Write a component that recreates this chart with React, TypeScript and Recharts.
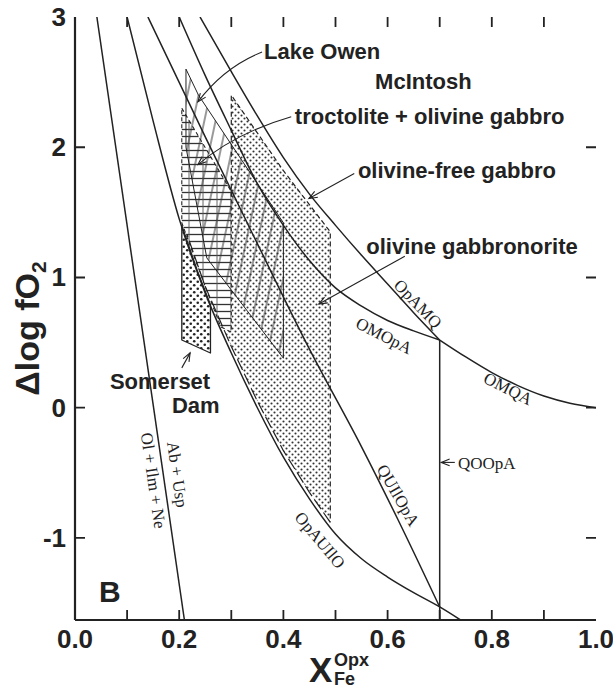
import React from 'react';
import { ScatterChart, Scatter, XAxis, YAxis } from 'recharts';

const CHART_W = 613;
const CHART_H = 690;
const INK = '#222';
const SANS = '"Liberation Sans", Arial, Helvetica, sans-serif';
const SERIF = '"Liberation Serif", "Times New Roman", serif';

// ---------- axes ----------
const xDomain = [0, 1];
const yDomain = [-1.63, 3];
const xTicks = [0, 0.1, 0.2, 0.3, 0.4, 0.5, 0.6, 0.7, 0.8, 0.9, 1.0];
const xLabelTicks = [0, 0.2, 0.4, 0.6, 0.8, 1.0];
const yTicks = [-1, 0, 1, 2, 3];
const xMinorMarks = [0.1, 0.2, 0.3, 0.4, 0.5, 0.6, 0.7, 0.8, 0.9];
const yMarks = [-1, 0, 1, 2];

// ---------- phase boundaries ----------
const olIlmNeLine = [{ x: 0.042, y: 3.0 }, { x: 0.21, y: -1.63 }];
const opAUIlO = [
  { x: 0.10, y: 3.0 }, { x: 0.15, y: 2.2 }, { x: 0.20, y: 1.45 }, { x: 0.25, y: 0.88 },
  { x: 0.30, y: 0.42 }, { x: 0.35, y: 0.0 }, { x: 0.40, y: -0.38 }, { x: 0.45, y: -0.70 },
  { x: 0.50, y: -0.97 }, { x: 0.55, y: -1.16 }, { x: 0.60, y: -1.30 }, { x: 0.65, y: -1.42 },
  { x: 0.70, y: -1.53 }, { x: 0.74, y: -1.63 },
];
const quIlOpA = [
  { x: 0.14, y: 3.0 }, { x: 0.25, y: 2.08 }, { x: 0.35, y: 1.26 }, { x: 0.45, y: 0.45 },
  { x: 0.55, y: -0.30 }, { x: 0.62, y: -0.86 }, { x: 0.70, y: -1.53 },
];
const omOpA = [
  { x: 0.20, y: 3.0 }, { x: 0.25, y: 2.55 }, { x: 0.30, y: 2.13 }, { x: 0.35, y: 1.72 },
  { x: 0.40, y: 1.40 }, { x: 0.45, y: 1.13 }, { x: 0.50, y: 0.92 }, { x: 0.55, y: 0.78 },
  { x: 0.60, y: 0.67 }, { x: 0.65, y: 0.59 }, { x: 0.70, y: 0.52 },
];
const omQA = [
  { x: 0.70, y: 0.52 }, { x: 0.75, y: 0.39 }, { x: 0.80, y: 0.27 }, { x: 0.85, y: 0.17 },
  { x: 0.90, y: 0.09 }, { x: 0.95, y: 0.035 }, { x: 1.0, y: 0.0 },
];
const opAMQ = [
  { x: 0.24, y: 3.0 }, { x: 0.30, y: 2.58 }, { x: 0.35, y: 2.24 }, { x: 0.40, y: 1.92 },
  { x: 0.45, y: 1.64 }, { x: 0.50, y: 1.40 }, { x: 0.55, y: 1.17 }, { x: 0.60, y: 0.95 },
  { x: 0.65, y: 0.73 }, { x: 0.70, y: 0.52 },
];
const qoOpA = [{ x: 0.70, y: 0.52 }, { x: 0.70, y: -1.63 }];

// ---------- rock fields ----------
const gabbronoriteArea = [
  { x: 0.30, y: 2.40 }, { x: 0.40, y: 1.82 }, { x: 0.49, y: 1.35 }, { x: 0.49, y: -0.88 },
  { x: 0.45, y: -0.65 }, { x: 0.40, y: -0.33 }, { x: 0.35, y: 0.05 }, { x: 0.30, y: 0.47 },
  { x: 0.25, y: 0.93 }, { x: 0.215, y: 1.33 }, { x: 0.30, y: 1.62 },
];
const gabbronoriteUpperEdge = [
  { x: 0.30, y: 1.62 }, { x: 0.30, y: 2.40 }, { x: 0.40, y: 1.82 }, { x: 0.49, y: 1.35 }, { x: 0.49, y: -0.88 },
];
const gabbronoriteLowerEdge = [
  { x: 0.49, y: -0.88 }, { x: 0.45, y: -0.65 }, { x: 0.40, y: -0.33 }, { x: 0.35, y: 0.05 },
  { x: 0.30, y: 0.47 }, { x: 0.25, y: 0.93 }, { x: 0.215, y: 1.33 },
];
const somersetDamArea = [
  { x: 0.205, y: 1.40 }, { x: 0.205, y: 0.52 }, { x: 0.26, y: 0.42 }, { x: 0.26, y: 0.79 }, { x: 0.235, y: 1.05 },
];
const troctoliteArea = [
  { x: 0.205, y: 2.30 }, { x: 0.30, y: 1.66 }, { x: 0.30, y: 0.58 }, { x: 0.28, y: 0.62 },
  { x: 0.25, y: 0.93 }, { x: 0.205, y: 1.42 },
];
const lakeOwenArea = [
  { x: 0.213, y: 2.60 }, { x: 0.237, y: 2.40 }, { x: 0.40, y: 1.42 }, { x: 0.40, y: 0.38 },
  { x: 0.253, y: 1.15 }, { x: 0.213, y: 2.0 },
];

// ---------- arrows ----------
const lakeOwenArrow = [{ x: 0.359, y: 2.731 }, { x: 0.292, y: 2.578 }, { x: 0.236, y: 2.349 }];
const troctoliteArrow = [{ x: 0.415, y: 2.234 }, { x: 0.317, y: 2.081 }, { x: 0.236, y: 1.867 }];
const olivineFreeArrow = [{ x: 0.536, y: 1.798 }, { x: 0.449, y: 1.607 }];
const gabbronoriteArrow = [{ x: 0.633, y: 1.163 }, { x: 0.468, y: 0.796 }];
const somersetArrow = [{ x: 0.205, y: 0.306 }, { x: 0.221, y: 0.421 }];
const qooArrow = [{ x: 0.729, y: -0.42 }, { x: 0.703, y: -0.42 }];

// ---------- labels ----------
const fieldLabels = [
  { x: 0.363, y: 2.678, text: 'Lake Owen' },
  { x: 0.576, y: 2.448, text: 'McIntosh' },
  { x: 0.422, y: 2.181, text: 'troctolite + olivine gabbro' },
  { x: 0.543, y: 1.760, text: 'olivine-free gabbro' },
  { x: 0.559, y: 1.178, text: 'olivine gabbronorite' },
  { x: 0.067, y: 0.145, text: 'Somerset' },
  { x: 0.186, y: -0.038, text: 'Dam' },
];
const reactionLabels = [
  { x: 0.658, y: 0.796, text: 'OpAMQ', angle: 46 },
  { x: 0.593, y: 0.551, text: 'OMOpA', angle: 27 },
  { x: 0.831, y: 0.145, text: 'OMQA', angle: 27 },
  { x: 0.620, y: -0.673, text: 'QUIlOpA', angle: 60 },
  { x: 0.470, y: -1.018, text: 'OpAUIlO', angle: 50 },
  { x: 0.196, y: -0.513, text: 'Ab + Usp', angle: 81.7 },
  { x: 0.150, y: -0.559, text: 'Ol + Ilm + Ne', angle: 81.7 },
];
const qooLabel = [{ x: 0.735, y: -0.467, text: 'QOOpA' }];
const panelLabel = [{ x: 0.067, y: -1.49, text: 'B' }];
const anchorPoint = [{ x: 0, y: 0 }];

// tick-mark series (positions come from the axis scales)
const bottomMarks = xMinorMarks.map((v) => ({ x: v, y: yDomain[0] }));
const topMarks = xMinorMarks.map((v) => ({ x: v, y: yDomain[1] }));
const leftMarks = yMarks.map((v) => ({ x: xDomain[0], y: v }));
const rightMarks = yMarks.map((v) => ({ x: xDomain[1], y: v }));

// ---------- renderers ----------
const noShape = () => <g />;
const TICK_LEN = 10;
const marksPath = (dx: number, dy: number) => (props: any) => {
  const pts = props.points || [];
  const d = pts.map((p: any) => `M${p.x},${p.y} L${p.x + dx * TICK_LEN},${p.y + dy * TICK_LEN}`).join(' ');
  return <path d={d} fill="none" stroke={INK} strokeWidth={1.8} />;
};

const polyPath = (fill: string, stroke: string, width: number, dash?: string, closed = true) => (props: any) => {
  const pts = props.points || [];
  if (!pts.length) return <g />;
  const d = pts.map((p: any, i: number) => `${i ? 'L' : 'M'}${p.x},${p.y}`).join(' ') + (closed ? ' Z' : '');
  return <path d={d} fill={fill} stroke={stroke} strokeWidth={width} strokeDasharray={dash} strokeLinejoin="round" />;
};

const arrowPath = (props: any) => {
  const pts = props.points || [];
  if (pts.length < 2) return <g />;
  let d: string;
  let from: any;
  const end = pts[pts.length - 1];
  if (pts.length === 3) {
    const p0 = pts[0], p1 = pts[1];
    const c = { x: 2 * p1.x - (p0.x + end.x) / 2, y: 2 * p1.y - (p0.y + end.y) / 2 };
    d = `M${p0.x},${p0.y} Q${c.x},${c.y} ${end.x},${end.y}`;
    from = c;
  } else {
    d = `M${pts[0].x},${pts[0].y} L${end.x},${end.y}`;
    from = pts[0];
  }
  const ang = Math.atan2(end.y - from.y, end.x - from.x);
  const L = 9;
  const s = 0.38;
  const h1 = { x: end.x - L * Math.cos(ang - s), y: end.y - L * Math.sin(ang - s) };
  const h2 = { x: end.x - L * Math.cos(ang + s), y: end.y - L * Math.sin(ang + s) };
  return (
    <g>
      <path d={d} fill="none" stroke={INK} strokeWidth={1.1} />
      <path d={`M${h1.x},${h1.y} L${end.x},${end.y} L${h2.x},${h2.y}`} fill="none" stroke={INK} strokeWidth={1.1} />
    </g>
  );
};

const FieldLabel = (p: any) => {
  const d = p.payload || p;
  return (
    <text x={p.cx} y={p.cy} fontFamily={SANS} fontWeight="bold" fontSize={22} fill={INK}>{d.text}</text>
  );
};
const ReactionLabel = (p: any) => {
  const d = p.payload || p;
  return (
    <text x={p.cx} y={p.cy} transform={`rotate(${d.angle} ${p.cx} ${p.cy})`} textAnchor="middle"
      dominantBaseline="central" fontFamily={SERIF} fontSize={17} fill={INK}>{d.text}</text>
  );
};
const QooLabel = (p: any) => {
  const d = p.payload || p;
  return <text x={p.cx} y={p.cy} fontFamily={SERIF} fontSize={17} fill={INK}>{d.text}</text>;
};
const PanelLabel = (p: any) => {
  const d = p.payload || p;
  return <text x={p.cx} y={p.cy} textAnchor="middle" fontFamily={SANS} fontWeight="bold" fontSize={30} fill={INK}>{d.text}</text>;
};

const isLabelled = (v: number) => xLabelTicks.some((t) => Math.abs(t - v) < 1e-6);

const BottomTick = (props: any) => {
  const { x, y, payload } = props;
  const v = Number(payload.value);
  return isLabelled(v) ? (
    <text x={x} y={y + 28} textAnchor="middle" fontFamily={SANS} fontWeight="bold" fontSize={26} fill={INK}>
      {v.toFixed(1)}
    </text>
  ) : <g />;
};
const LeftTick = (props: any) => {
  const { x, y, payload } = props;
  return (
    <text x={x - 9} y={y + 9} textAnchor="end" fontFamily={SANS} fontWeight="bold" fontSize={26} fill={INK}>
      {String(payload.value)}
    </text>
  );
};

const XTitle = (p: any) => {
  const vb = (p && p.viewBox) || { x: 75, y: 620, width: 521, height: 70 };
  const cx = vb.x + vb.width / 2;
  return (
    <g>
      <text x={cx - 26.5} y={vb.y + 62} fontFamily={SANS} fontWeight="bold" fontSize={35} fill={INK}>X</text>
      <text x={cx - 1.5} y={vb.y + 46} fontFamily={SANS} fontWeight="bold" fontSize={18} fill={INK}>Opx</text>
      <text x={cx - 1.5} y={vb.y + 65} fontFamily={SANS} fontWeight="bold" fontSize={18} fill={INK}>Fe</text>
    </g>
  );
};
const YTitle = (p: any) => {
  const vb = (p && p.viewBox) || { x: 0, y: 17, width: 75, height: 603 };
  const x0 = vb.x + 39;
  const y0 = vb.y + vb.height / 2 + 10;
  return (
    <text transform={`rotate(-90 ${x0} ${y0})`} x={x0} y={y0} textAnchor="middle"
      fontFamily={SANS} fontWeight="bold" fontSize={34} fill={INK}>
      Δlog fO<tspan fontSize={21} dy={7}>2</tspan>
    </text>
  );
};

const frameLine = { stroke: INK, strokeWidth: 2.2 };
const curveLine = { stroke: INK, strokeWidth: 1.5 };

export default function App() {
  return (
    <div style={{ position: 'absolute', left: 0, top: 0, width: CHART_W, height: CHART_H, background: '#fff' }}>
      <svg width={0} height={0} style={{ position: 'absolute' }}>
        <defs>
          <pattern id="stipple" width="6" height="6" patternUnits="userSpaceOnUse">
            <rect width="6" height="6" fill="#fff" />
            <circle cx="1.5" cy="1.5" r="1.05" fill="#333" />
            <circle cx="4.5" cy="4.5" r="1.05" fill="#333" />
          </pattern>
          <pattern id="stippleBig" width="7" height="7" patternUnits="userSpaceOnUse">
            <rect width="7" height="7" fill="#fff" />
            <circle cx="1.75" cy="1.75" r="1.3" fill="#222" />
            <circle cx="5.25" cy="5.25" r="1.3" fill="#222" />
          </pattern>
          <pattern id="hatchH" width="14" height="7" patternUnits="userSpaceOnUse">
            <rect width="14" height="7" fill="#fff" />
            <line x1="0" y1="3.5" x2="14" y2="3.5" stroke="#333" strokeWidth="1.3" />
            <line x1="7" y1="0" x2="7" y2="7" stroke="#555" strokeWidth="0.9" />
          </pattern>
          <pattern id="zigzag" width="11" height="11" patternUnits="userSpaceOnUse" patternTransform="rotate(12)">
            <line x1="5" y1="0" x2="5" y2="11" stroke="#333" strokeWidth="1" />
          </pattern>
        </defs>
      </svg>
      <ScatterChart width={CHART_W} height={CHART_H} margin={{ top: 17, right: 17, bottom: 0, left: 0 }}>
        <XAxis type="number" dataKey="x" domain={xDomain} ticks={xTicks} interval={0} allowDataOverflow
          tickSize={0} tickMargin={0} tickLine={false} tick={<BottomTick />} axisLine={frameLine} height={70}
          label={(p: any) => <XTitle {...p} />} />
        <XAxis xAxisId="top" orientation="top" type="number" dataKey="x" domain={xDomain} ticks={xTicks} interval={0}
          allowDataOverflow tickSize={0} tickMargin={0} tickLine={false} tick={false} axisLine={frameLine} height={0} />
        <YAxis type="number" dataKey="y" domain={yDomain} ticks={yTicks} interval={0} allowDataOverflow
          tickSize={0} tickMargin={0} tickLine={false} tick={<LeftTick />} axisLine={frameLine} width={75}
          label={(p: any) => <YTitle {...p} />} />
        <YAxis yAxisId="right" orientation="right" type="number" dataKey="y" domain={yDomain} ticks={yTicks} interval={0}
          allowDataOverflow tickSize={0} tickMargin={0} tickLine={false} tick={false} axisLine={frameLine} width={0} />

        <Scatter data={gabbronoriteArea} shape={noShape} line={polyPath('url(#stipple)', 'none', 0)} isAnimationActive={false} />
        <Scatter data={troctoliteArea} shape={noShape} line={polyPath('url(#hatchH)', INK, 1.1, '4 3')} isAnimationActive={false} />
        <Scatter data={somersetDamArea} shape={noShape} line={polyPath('url(#stippleBig)', INK, 1.3)} isAnimationActive={false} />
        <Scatter data={lakeOwenArea} shape={noShape} line={polyPath('url(#zigzag)', INK, 1.0)} isAnimationActive={false} />
        <Scatter data={gabbronoriteUpperEdge} shape={noShape} line={polyPath('none', INK, 1.2, '5 3', false)} isAnimationActive={false} />
        <Scatter data={gabbronoriteLowerEdge} shape={noShape} line={polyPath('none', INK, 1.2, '12 4', false)} isAnimationActive={false} />

        <Scatter data={olIlmNeLine} shape={noShape} line={curveLine} lineJointType="linear" isAnimationActive={false} />
        <Scatter data={opAUIlO} shape={noShape} line={curveLine} lineJointType="monotoneX" isAnimationActive={false} />
        <Scatter data={quIlOpA} shape={noShape} line={curveLine} lineJointType="monotoneX" isAnimationActive={false} />
        <Scatter data={omOpA} shape={noShape} line={curveLine} lineJointType="monotoneX" isAnimationActive={false} />
        <Scatter data={omQA} shape={noShape} line={curveLine} lineJointType="monotoneX" isAnimationActive={false} />
        <Scatter data={opAMQ} shape={noShape} line={curveLine} lineJointType="monotoneX" isAnimationActive={false} />
        <Scatter data={qoOpA} shape={noShape} line={curveLine} lineJointType="linear" isAnimationActive={false} />

        <Scatter data={bottomMarks} shape={noShape} line={marksPath(0, -1)} isAnimationActive={false} />
        <Scatter data={topMarks} shape={noShape} line={marksPath(0, 1)} isAnimationActive={false} />
        <Scatter data={leftMarks} shape={noShape} line={marksPath(1, 0)} isAnimationActive={false} />
        <Scatter data={rightMarks} shape={noShape} line={marksPath(-1, 0)} isAnimationActive={false} />

        <Scatter data={lakeOwenArrow} shape={noShape} line={arrowPath} isAnimationActive={false} />
        <Scatter data={troctoliteArrow} shape={noShape} line={arrowPath} isAnimationActive={false} />
        <Scatter data={olivineFreeArrow} shape={noShape} line={arrowPath} isAnimationActive={false} />
        <Scatter data={gabbronoriteArrow} shape={noShape} line={arrowPath} isAnimationActive={false} />
        <Scatter data={somersetArrow} shape={noShape} line={arrowPath} isAnimationActive={false} />
        <Scatter data={qooArrow} shape={noShape} line={arrowPath} isAnimationActive={false} />

        <Scatter data={fieldLabels} shape={(p: any) => <FieldLabel {...p} />} isAnimationActive={false} />
        <Scatter data={reactionLabels} shape={(p: any) => <ReactionLabel {...p} />} isAnimationActive={false} />
        <Scatter data={qooLabel} shape={(p: any) => <QooLabel {...p} />} isAnimationActive={false} />
        <Scatter data={panelLabel} shape={(p: any) => <PanelLabel {...p} />} isAnimationActive={false} />
        <Scatter data={anchorPoint} xAxisId="top" yAxisId="right" shape={noShape} isAnimationActive={false} />
      </ScatterChart>
    </div>
  );
}
